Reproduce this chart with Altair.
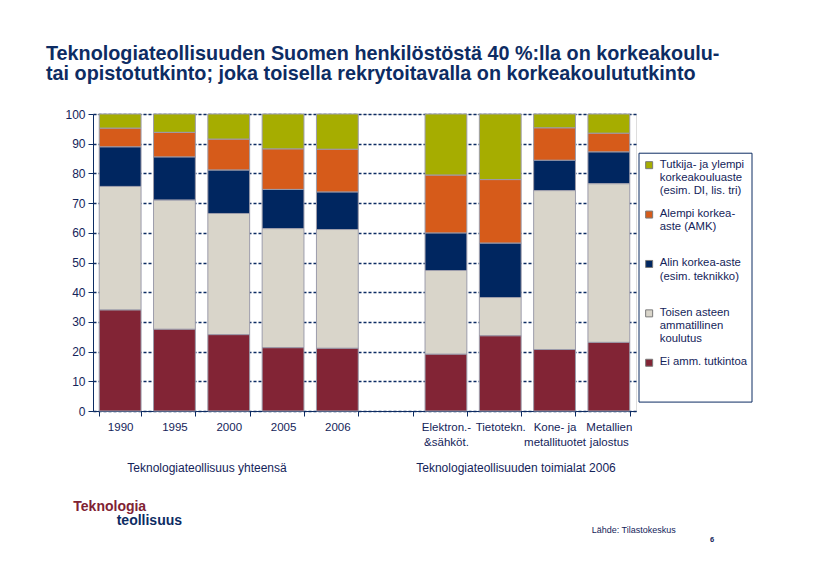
import altair as alt
import pandas as pd

# ---- data -------------------------------------------------------------
categories = ["1990", "1995", "2000", "2005", "2006", " ",
              "Elektron.-|&sähköt.", "Tietotekn.", "Kone- ja|metallituotet",
              "Metallien|jalostus"]
bar_categories = ["1990", "1995", "2000", "2005", "2006",
                  "Elektron.-|&sähköt.", "Tietotekn.", "Kone- ja|metallituotet",
                  "Metallien|jalostus"]

series_names = [
    "Tutkija- ja ylempi|korkeakouluaste|(esim. DI, lis. tri)",
    "Alempi korkea-|aste (AMK)",
    "Alin korkea-aste|(esim. teknikko)",
    "Toisen asteen|ammatillinen|koulutus",
    "Ei amm. tutkintoa",
]
tutkija = [4.8, 6.2, 8.5, 11.8, 11.9, 20.6, 22.1, 4.7, 6.5]
alempi = [6.3, 8.3, 10.4, 13.6, 14.4, 19.5, 21.4, 10.9, 6.3]
alin = [13.3, 14.5, 14.6, 13.2, 12.6, 12.6, 18.3, 10.2, 10.7]
toisen = [41.6, 43.5, 40.8, 40.1, 40.0, 28.2, 12.9, 53.5, 53.4]
ei_amm = [34.0, 27.5, 25.7, 21.3, 21.1, 19.1, 25.3, 20.7, 23.1]
series_values = [tutkija, alempi, alin, toisen, ei_amm]
series_colors = ["#A6AD00", "#D65B1A", "#002660", "#D9D5CA", "#822435"]

title_lines = ["Teknologiateollisuuden Suomen henkilöstöstä 40 %:lla on korkeakoulu-",
               "tai opistotutkinto; joka toisella rekrytoitavalla on korkeakoulututkinto"]
group_labels = ["Teknologiateollisuus yhteensä", "Teknologiateollisuuden toimialat 2006"]
source_text = "Lähde: Tilastokeskus"
page_number = "6"
logo_top = "Teknologia"
logo_bottom = "teollisuus"

rows = []
for s_i, (name, vals) in enumerate(zip(series_names, series_values)):
    for cat, v in zip(bar_categories, vals):
        rows.append({"cat": cat, "series": name, "value": v,
                     "order": len(series_names) - s_i})
df = pd.DataFrame(rows)

NAVY = "#0d2c63"
TEXT = "#14245a"
FONT = "Liberation Sans"

y_axis = alt.Axis(title=None, values=list(range(0, 101, 10)),
                  labelFontSize=12, labelColor=TEXT, labelFont=FONT,
                  tickSize=5, tickColor=NAVY, domainColor=NAVY,
                  labelPadding=3, grid=True, gridColor=NAVY,
                  gridDash=[3, 2], gridWidth=1.6)
y_scale = alt.Scale(domain=[0, 100], nice=False)

bars = alt.Chart(df).mark_bar(stroke="#9c9cab", strokeWidth=1).encode(
    x=alt.X("cat:N", scale=alt.Scale(domain=categories, paddingInner=0.23,
                                     paddingOuter=0.115),
            sort=categories,
            axis=alt.Axis(title=None, labelExpr="split(datum.label, '|')",
                          labelAngle=0, labelFontSize=11.5, labelColor=TEXT,
                          labelFont=FONT, labelPadding=5, labelLineHeight=15,
                          labelOverlap=False, labelBound=False,
                          tickBand="extent", tickSize=5, tickColor=NAVY,
                          domainColor=NAVY, grid=False)),
    y=alt.Y("value:Q", stack="zero", scale=y_scale, axis=y_axis),
    color=alt.Color("series:N",
                    scale=alt.Scale(domain=series_names, range=series_colors),
                    legend=alt.Legend(
                        title=None, orient="none", legendX=545, legendY=37,
                        labelExpr="split(datum.label, '|')",
                        labelFont=FONT, labelFontSize=11.3, labelColor=TEXT,
                        labelBaseline="top", labelLimit=300,
                        labelOffset=5, symbolOffset=3.5,
                        symbolType="M-1,0.86L1,0.86L1,2.86L-1,2.86Z",
                        symbolSize=49, symbolStrokeColor="#7a7a7a",
                        symbolStrokeWidth=1, gridAlign="all", rowPadding=5.4,
                        padding=2, direction="vertical")),
    order=alt.Order("order:Q", sort="ascending"),
)

# frame around the legend (placed on the value scale)
legend_frame_top = [86.8]
legend_frame_bottom = [3.0]
legend_box = alt.Chart(pd.DataFrame({"top": legend_frame_top,
                                     "bottom": legend_frame_bottom})).mark_rect(
    fill=None, stroke=NAVY, strokeWidth=1
).encode(x=alt.value(546), x2=alt.value(659),
         y=alt.Y("top:Q", scale=y_scale, axis=y_axis), y2="bottom:Q")

group_df = pd.DataFrame({"label": group_labels, "px": [114, 423]})
groups = alt.Chart(group_df).mark_text(
    font=FONT, fontSize=12, color=TEXT, baseline="alphabetic", align="center"
).encode(x=alt.X("px:Q", scale=None), y=alt.value(357.7), text="label:N")

logo1 = alt.Chart(pd.DataFrame({"t": [logo_top]})).mark_text(
    font=FONT, fontSize=14, fontWeight="bold", color="#7f2233",
    align="left", baseline="alphabetic"
).encode(x=alt.value(-19.7), y=alt.value(397), text="t:N")
logo2 = alt.Chart(pd.DataFrame({"t": [logo_bottom]})).mark_text(
    font=FONT, fontSize=14, fontWeight="bold", color=NAVY,
    align="left", baseline="alphabetic"
).encode(x=alt.value(23.7), y=alt.value(410.5), text="t:N")
source = alt.Chart(pd.DataFrame({"t": [source_text]})).mark_text(
    font=FONT, fontSize=9, color=TEXT, align="left", baseline="alphabetic"
).encode(x=alt.value(498.7), y=alt.value(419), text="t:N")
page = alt.Chart(pd.DataFrame({"t": [page_number]})).mark_text(
    font=FONT, fontSize=7.5, fontWeight="bold", color=TEXT, align="left",
    baseline="alphabetic"
).encode(x=alt.value(617), y=alt.value(427.7), text="t:N")

chart = alt.layer(bars, legend_box, groups, logo1, logo2, source, page).properties(
    width=543, height=297,
    autosize=alt.AutoSizeParams(type="none"),
    padding={"left": 85, "top": 106, "right": 171, "bottom": 163},
    title=alt.TitleParams(text=title_lines, anchor="start", dx=-19,
                          font=FONT, fontSize=19.8, fontWeight="bold",
                          color=NAVY, lineHeight=20.5, offset=8,
                          baseline="alphabetic"),
).configure_view(stroke=NAVY, strokeWidth=1).configure(background="white")

chart.save("out.html", embed_options={"renderer": "svg", "actions": False})
